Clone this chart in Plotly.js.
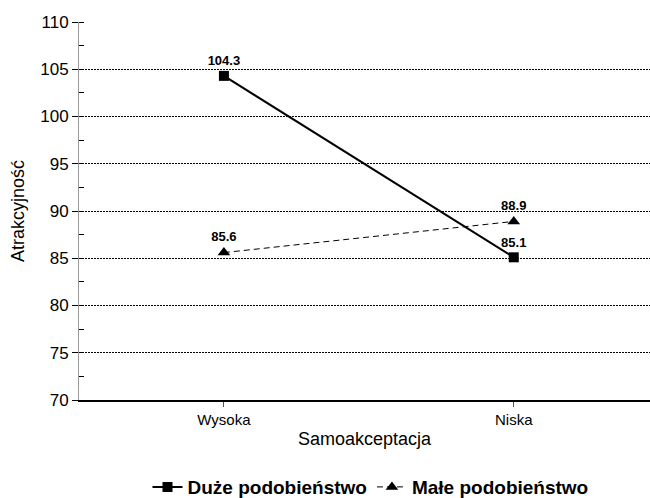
<!DOCTYPE html>
<html>
<head>
<meta charset="utf-8">
<script src="https://cdn.plot.ly/plotly-3.0.1.min.js"></script>
<style>
  body { margin: 0; background: #fff; }
  #chart { width: 650px; height: 498px; }
</style>
</head>
<body>
<div id="chart"></div>
<script>
// data
const categories = ['Wysoka', 'Niska'];
const seriesNames = ['Duże podobieństwo', 'Małe podobieństwo'];
const duzeValues = [104.3, 85.1];
const maleValues = [85.6, 88.9];
const yTicks = [70, 75, 80, 85, 90, 95, 100, 105, 110];

const fontFamily = '"Liberation Sans", Arial, sans-serif';

const duzeTrace = {
    x: categories,
    y: duzeValues,
    name: seriesNames[0],
    type: 'scatter',
    mode: 'lines+markers+text',
    text: duzeValues.map(v => v.toFixed(1)),
    textposition: 'top center',
    textfont: { family: fontFamily, size: 13, color: '#000', weight: 'bold' },
    line: { color: '#000', width: 2 },
    marker: { symbol: 'square', size: 10, color: '#000' },
    cliponaxis: false
};

const maleTrace = {
    x: categories,
    y: maleValues,
    name: seriesNames[1],
    type: 'scatter',
    mode: 'lines+markers+text',
    text: maleValues.map(v => v.toFixed(1)),
    textposition: 'top center',
    textfont: { family: fontFamily, size: 13, color: '#000', weight: 'bold' },
    line: { color: '#000', width: 1, dash: '6px,4px' },
    marker: { symbol: 'triangle-up', size: 11, color: '#000' },
    cliponaxis: false
};

const layout = {
    width: 650,
    height: 498,
    margin: { l: 79, r: 0, t: 22, b: 98, autoexpand: false },
    paper_bgcolor: '#fff',
    plot_bgcolor: '#fff',
    font: { family: fontFamily, color: '#000' },
    showlegend: true,
    legend: {
        orientation: 'h',
        x: 0.57,
        xref: 'container',
        xanchor: 'center',
        y: 0.022,
        yref: 'container',
        yanchor: 'middle',
        font: { family: fontFamily, size: 19, weight: 'bold', color: '#000' },
        itemwidth: 30,
        tracegroupgap: 0
    },
    xaxis: {
        type: 'category',
        range: [-0.5, 1.47],
        showgrid: false,
        showline: true,
        linecolor: '#000',
        linewidth: 1.5,
        ticks: 'outside',
        ticklen: 5,
        tickcolor: '#555',
        tickfont: { size: 15 },
        title: { text: 'Samoakceptacja', font: { size: 18 }, standoff: 6 },
        zeroline: false
    },
    yaxis: {
        range: [70, 110],
        tickvals: yTicks,
        ticktext: yTicks.map(String),
        showgrid: true,
        gridcolor: '#000',
        griddash: '1.5px,1.5px',
        gridwidth: 1,
        showline: true,
        linecolor: '#999',
        linewidth: 1,
        ticks: 'outside',
        ticklen: 6,
        tickcolor: '#000',
        tickfont: { size: 17 },
        minor: { dtick: 2.5, ticks: 'inside', ticklen: 5, tickcolor: '#000', showgrid: false },
        title: { text: 'Atrakcyjność', font: { size: 18 }, standoff: 10 },
        zeroline: false
    }
};

Plotly.newPlot('chart', [duzeTrace, maleTrace], layout, { displayModeBar: false, staticPlot: true });
</script>
</body>
</html>
